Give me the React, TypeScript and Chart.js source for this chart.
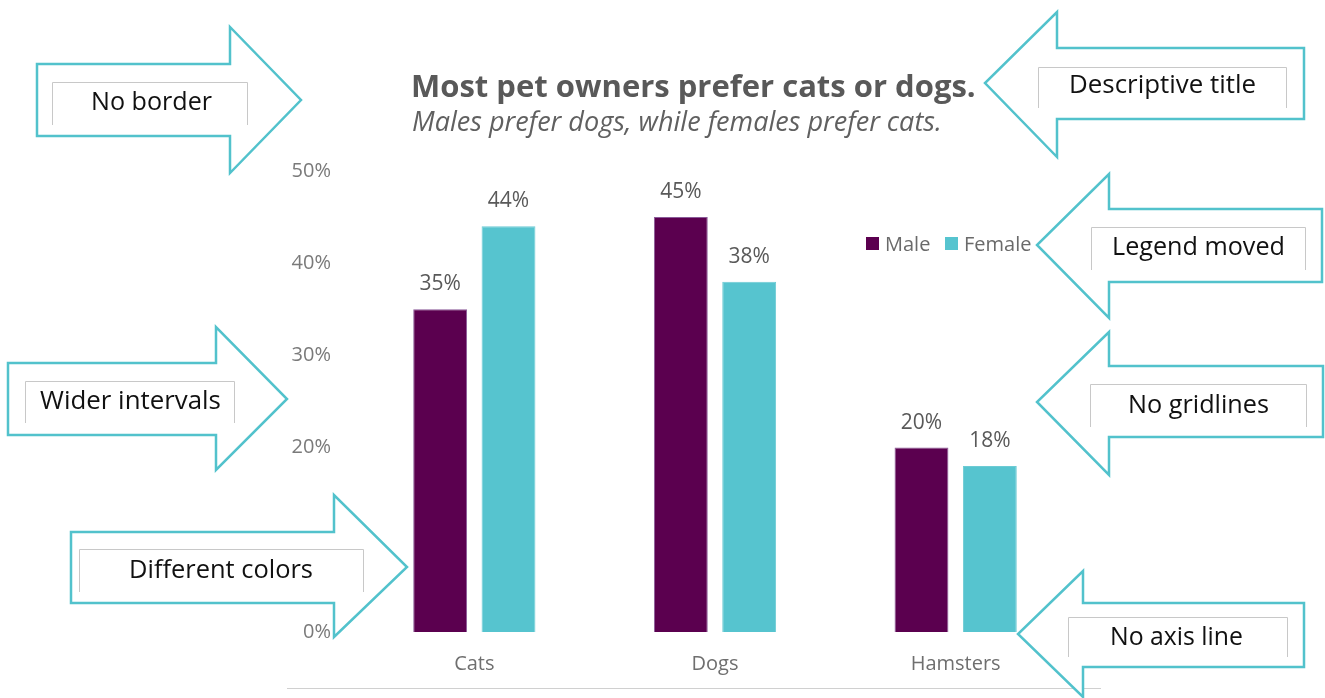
import React, { useEffect, useRef } from "react";
import { Chart, registerables } from "chart.js";

Chart.register(...registerables);

// ---- data ----
const categories = ["Cats", "Dogs", "Hamsters"];
const seriesNames = ["Male", "Female"];
const maleValues = [35, 45, 20];
const femaleValues = [44, 38, 18];
const yTickValues = [0, 10, 20, 30, 40, 50];
const titleText = "Most pet owners prefer cats or dogs.";
const subtitleText = "Males prefer dogs, while females prefer cats.";
const noteTexts = [
  "No border",
  "Descriptive title",
  "Legend moved",
  "Wider intervals",
  "Different colors",
  "No gridlines",
  "No axis line",
];

// ---- styles / layout ----
const MALE = "#5b004f";
const MALE_BORDER = "#8a5a98";
const FEMALE = "#56c4cf";
const FEMALE_BORDER = "#6ccbd4";
const TEAL = "#52c2cc";
const FONT = "'Open Sans', 'Noto Sans', sans-serif";

type Note = {
  dir: "L" | "R";
  bodyX: number; headX: number; tipX: number;
  bodyTop: number; bodyBottom: number; headTop: number; headBottom: number; tipY: number;
  box: [number, number, number, number];
  tx: number; ty: number; tw: number;
};

const noteShapes: Note[] = [
  { dir: "R", bodyX: 37, headX: 230, tipX: 301, bodyTop: 64, bodyBottom: 136, headTop: 27, headBottom: 173, tipY: 100, box: [52, 82, 248, 125], tx: 151.5, ty: 110, tw: 121 },
  { dir: "L", bodyX: 1304, headX: 1057, tipX: 985, bodyTop: 48, bodyBottom: 119, headTop: 12, headBottom: 157, tipY: 83, box: [1038, 67, 1287, 108], tx: 1162.5, ty: 93, tw: 187 },
  { dir: "L", bodyX: 1322, headX: 1109, tipX: 1037, bodyTop: 209, bodyBottom: 282, headTop: 174, headBottom: 318, tipY: 245, box: [1091, 227, 1306, 270], tx: 1198.5, ty: 255, tw: 173 },
  { dir: "R", bodyX: 8, headX: 216, tipX: 287, bodyTop: 363, bodyBottom: 435, headTop: 327, headBottom: 470, tipY: 399, box: [25, 381, 235, 423], tx: 130.5, ty: 409, tw: 181 },
  { dir: "R", bodyX: 71, headX: 334, tipX: 407, bodyTop: 532, bodyBottom: 603, headTop: 495, headBottom: 637, tipY: 567, box: [79, 549, 364, 592], tx: 221, ty: 578, tw: 184 },
  { dir: "L", bodyX: 1323, headX: 1109, tipX: 1037, bodyTop: 366, bodyBottom: 437, headTop: 332, headBottom: 475, tipY: 402, box: [1090, 384, 1307, 427], tx: 1198.5, ty: 413, tw: 141 },
  { dir: "L", bodyX: 1304, headX: 1083, tipX: 1018, bodyTop: 603, bodyBottom: 667, headTop: 571, headBottom: 697, tipY: 634, box: [1068, 617, 1288, 657], tx: 1176.5, ty: 645, tw: 133 },
];

function fitSize(ctx: CanvasRenderingContext2D, text: string, style: string, target: number, base: number) {
  ctx.font = `${style} ${base}px ${FONT}`;
  const w = ctx.measureText(text).width;
  return w > 0 ? (base * target) / w : base;
}

const decorPlugin = {
  id: "decor",
  afterDatasetsDraw(chart: any) {
    const ctx: CanvasRenderingContext2D = chart.ctx;
    ctx.save();
    // data labels
    ctx.fillStyle = "#595959";
    ctx.font = `21px ${FONT}`;
    ctx.textAlign = "center";
    ctx.textBaseline = "middle";
    chart.data.datasets.forEach((ds: any, di: number) => {
      const meta = chart.getDatasetMeta(di);
      meta.data.forEach((bar: any, i: number) => {
        ctx.fillText(ds.data[i] + "%", bar.x, bar.y - 25);
      });
    });
    ctx.restore();
  },
  afterDraw(chart: any) {
    const ctx: CanvasRenderingContext2D = chart.ctx;
    ctx.save();
    // title + subtitle
    ctx.textAlign = "left";
    ctx.textBaseline = "alphabetic";
    ctx.fillStyle = "#595959";
    let s = fitSize(ctx, titleText, "bold", 565, 28);
    ctx.font = `bold ${s}px ${FONT}`;
    ctx.fillText(titleText, 411, 97);
    ctx.fillStyle = "#606060";
    s = fitSize(ctx, subtitleText, "italic", 530, 21);
    ctx.font = `italic ${s}px ${FONT}`;
    ctx.fillText(subtitleText, 412, 131);

    // legend
    const legendX = [866, 945];
    chart.data.datasets.forEach((ds: any, i: number) => {
      ctx.fillStyle = ds.backgroundColor;
      ctx.fillRect(legendX[i], 237, 13, 13);
      ctx.fillStyle = "#6a6a6a";
      ctx.font = `20px ${FONT}`;
      ctx.fillText(ds.label, legendX[i] + 19, 251);
    });

    // bottom rule
    ctx.strokeStyle = "#d0d0d0";
    ctx.lineWidth = 1;
    ctx.beginPath();
    ctx.moveTo(287, 688.5);
    ctx.lineTo(1101, 688.5);
    ctx.stroke();

    // annotation arrows
    noteShapes.forEach((n, idx) => {
      ctx.strokeStyle = TEAL;
      ctx.fillStyle = "#ffffff";
      ctx.lineWidth = 2.5;
      ctx.lineJoin = "miter";
      ctx.beginPath();
      ctx.moveTo(n.bodyX, n.bodyTop);
      ctx.lineTo(n.headX, n.bodyTop);
      ctx.lineTo(n.headX, n.headTop);
      ctx.lineTo(n.tipX, n.tipY);
      ctx.lineTo(n.headX, n.headBottom);
      ctx.lineTo(n.headX, n.bodyBottom);
      ctx.lineTo(n.bodyX, n.bodyBottom);
      ctx.closePath();
      ctx.fill();
      ctx.stroke();

      const [x1, y1, x2, y2] = n.box;
      ctx.strokeStyle = "#c8c8c8";
      ctx.lineWidth = 1;
      ctx.beginPath();
      ctx.moveTo(x1 + 0.5, y2);
      ctx.lineTo(x1 + 0.5, y1 + 0.5);
      ctx.lineTo(x2 - 0.5, y1 + 0.5);
      ctx.lineTo(x2 - 0.5, y2);
      ctx.stroke();

      const text = noteTexts[idx];
      const fs = fitSize(ctx, text, "", n.tw, 25);
      ctx.font = `${fs}px ${FONT}`;
      ctx.fillStyle = "#111111";
      ctx.textAlign = "center";
      ctx.textBaseline = "alphabetic";
      ctx.fillText(text, n.tx, n.ty);
    });
    ctx.restore();
  },
};

export default function App() {
  const ref = useRef<HTMLCanvasElement>(null);
  useEffect(() => {
    if (!ref.current) return;
    const chart = new Chart(ref.current, {
      type: "bar",
      data: {
        labels: categories,
        datasets: [
          { label: seriesNames[0], data: maleValues, backgroundColor: MALE, borderColor: MALE_BORDER, borderWidth: 1 },
          { label: seriesNames[1], data: femaleValues, backgroundColor: FEMALE, borderColor: FEMALE_BORDER, borderWidth: 1 },
        ],
      },
      options: {
        animation: false,
        responsive: false,
        devicePixelRatio: 1,
        categoryPercentage: 0.568,
        barPercentage: 0.788,
        layout: { padding: { left: 280, right: 249, top: 171, bottom: 0 } },
        plugins: {
          legend: { display: false },
          title: { display: false },
          tooltip: { enabled: false },
        },
        scales: {
          x: {
            grid: { display: false, drawTicks: false },
            border: { display: false },
            ticks: { color: "#6f6f6f", font: { family: FONT, size: 20 }, padding: 20 },
            afterFit: (sc: any) => { sc.height = 66; },
          },
          y: {
            min: yTickValues[0],
            max: yTickValues[yTickValues.length - 1],
            grid: { display: false, drawTicks: false },
            border: { display: false },
            ticks: {
              stepSize: yTickValues[1] - yTickValues[0],
              color: "#7a7a7a",
              font: { family: FONT, size: 20 },
              padding: 23,
              callback: (v: any) => v + "%",
            },
            afterFit: (sc: any) => { sc.width = 74; },
          },
        },
      },
      plugins: [decorPlugin],
    });
    return () => chart.destroy();
  }, []);
  return (
    <div style={{ position: "absolute", left: 0, top: 0, width: 1325, height: 698, background: "#fff" }}>
      <canvas ref={ref} width={1325} height={698} style={{ width: 1325, height: 698 }} />
    </div>
  );
}
